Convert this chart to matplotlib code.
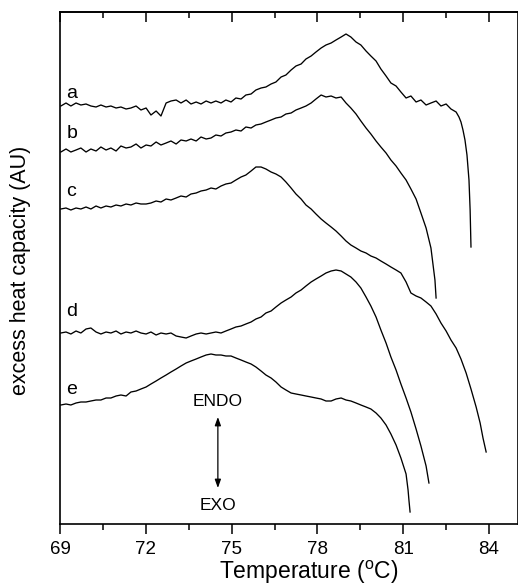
import matplotlib
matplotlib.use('Agg')
import matplotlib.pyplot as plt

plt.rcParams['font.family'] = ['Liberation Sans', 'DejaVu Sans']
plt.rcParams['mathtext.fontset'] = 'custom'
plt.rcParams['mathtext.rm'] = 'Liberation Sans'

# ── data: temperature (°C) and excess heat capacity (AU, stacked) ──

temp_grid = [69.03, 69.21, 69.38, 69.56, 69.73, 69.91, 70.08, 70.26, 70.43, 70.61,
             70.78, 70.96, 71.13, 71.31, 71.48, 71.66, 71.83, 72.01, 72.18, 72.36,
             72.53, 72.71, 72.88, 73.06, 73.23, 73.41, 73.58, 73.76, 73.93, 74.11,
             74.28, 74.45, 74.63, 74.80, 74.98, 75.15, 75.33, 75.50, 75.68, 75.85,
             76.03, 76.20, 76.38, 76.55, 76.73, 76.90, 77.08, 77.25, 77.43, 77.60,
             77.78, 77.95, 78.13, 78.30, 78.48, 78.65, 78.83, 79.00, 79.17, 79.35,
             79.52, 79.70, 79.87, 80.05, 80.22, 80.40, 80.57, 80.75, 80.92, 81.10,
             81.27, 81.45, 81.62, 81.80, 81.97, 82.15, 82.32, 82.50, 82.67, 82.85]

cp_a = [418, 421, 418, 421, 419, 420, 418, 417, 419, 417,
        418, 416, 417, 415, 416, 418, 414, 416, 409, 413,
        408, 421, 423, 424, 421, 424, 420, 422, 420, 423,
        421, 423, 421, 424, 422, 426, 425, 429, 430, 434,
        436, 437, 440, 442, 447, 449, 454, 458, 460, 465,
        468, 472, 476, 479, 481, 484, 487, 490, 487, 482,
        479, 473, 468, 463, 455, 448, 441, 438, 432, 426,
        428, 422, 424, 419, 421, 423, 418, 420, 415, 412]
tail_a_T = [82.95, 83.02, 83.09, 83.16, 83.23, 83.30, 83.34, 83.37]
tail_a = [407, 402, 394, 384, 369, 344, 314, 277]

cp_b = [372, 375, 372, 374, 376, 372, 375, 373, 377, 374,
        376, 373, 378, 376, 377, 380, 376, 379, 378, 382,
        379, 381, 383, 380, 384, 383, 385, 383, 387, 385,
        386, 389, 388, 391, 392, 394, 393, 397, 396, 399,
        400, 402, 404, 406, 407, 410, 411, 414, 416, 418,
        421, 425, 429, 427, 428, 426, 427, 421, 416, 410,
        403, 396, 390, 383, 377, 371, 364, 358, 351, 344,
        335, 325, 311, 296, 276]
tail_b_T = [82.04, 82.11, 82.15]
tail_b = [260, 244, 226]

cp_c = [315, 316, 314, 316, 315, 317, 315, 318, 316, 318,
        317, 319, 318, 320, 319, 321, 320, 320, 321, 323,
        322, 325, 324, 326, 328, 327, 330, 331, 333, 334,
        336, 335, 338, 340, 341, 344, 347, 349, 353, 357,
        357, 355, 352, 350, 347, 342, 336, 330, 325, 319,
        315, 310, 305, 301, 297, 293, 288, 283, 279, 276,
        273, 271, 268, 266, 263, 260, 257, 254, 251, 242,
        231, 228, 226, 222, 218, 210, 201, 193, 184, 176]
tail_c_T = [83.02, 83.20, 83.37, 83.55, 83.69, 83.79, 83.90]
tail_c = [165, 151, 135, 117, 101, 86, 72]

cp_d = [191, 192, 190, 193, 191, 195, 196, 192, 190, 192,
        191, 193, 190, 192, 191, 193, 191, 190, 192, 189,
        191, 190, 191, 188, 187, 186, 188, 190, 191, 190,
        191, 192, 191, 193, 195, 197, 198, 200, 202, 205,
        207, 211, 213, 217, 221, 224, 227, 231, 234, 238,
        242, 245, 248, 251, 253, 254, 253, 250, 247, 242,
        236, 227, 218, 207, 194, 181, 167, 154, 140, 126,
        112, 95, 78, 58]
tail_d_T = [81.90]
tail_d = [41]

cp_e = [119, 120, 119, 121, 122, 122, 123, 124, 124, 126,
        126, 128, 129, 128, 132, 133, 135, 137, 140, 143,
        146, 149, 152, 155, 158, 161, 163, 165, 167, 169,
        170, 169, 169, 168, 168, 166, 164, 162, 160, 157,
        153, 149, 146, 142, 137, 134, 131, 130, 129, 128,
        127, 126, 125, 123, 123, 125, 126, 124, 123, 121,
        119, 117, 115, 111, 106, 99, 90, 79, 66, 50]
tail_e_T = [81.17, 81.20, 81.24]
tail_e = [34, 24, 12]

curves = [
    ('a', cp_a, tail_a_T, tail_a, 431),
    ('b', cp_b, tail_b_T, tail_b, 391),
    ('c', cp_c, tail_c_T, tail_c, 332),
    ('d', cp_d, tail_d_T, tail_d, 212),
    ('e', cp_e, tail_e_T, tail_e, 134),
]

# ── figure ───────────────────────────────────────────────────────

fig = plt.figure(figsize=(5.18, 5.85), dpi=100)
ax = fig.add_axes([60/518, 1-524/585, 457.6/518, 512/585])

for name, cp, tT, tcp, label_y in curves:
    T = temp_grid[:len(cp)] + tT
    ax.plot(T, cp + tcp, color='black', lw=0.95)
    ax.text(69.22, label_y, name, fontsize=14, ha='left', va='center')

# ENDO / EXO marker
ax.text(74.52, 122, 'ENDO', fontsize=12.5, ha='center', va='center')
ax.text(74.52, 19, 'EXO', fontsize=12.5, ha='center', va='center')
ax.annotate('', xy=(74.52, 107), xytext=(74.52, 36),
            arrowprops=dict(arrowstyle='<|-|>,head_width=0.18,head_length=0.5',
                            color='black', lw=0.9, shrinkA=0, shrinkB=0))

ax.set_xlim(69, 85)
ax.set_ylim(0, 512)
ax.set_yticks([])
ax.set_xticks([69, 72, 75, 78, 81, 84])
ax.set_xticks([70.5, 73.5, 76.5, 79.5, 82.5], minor=True)
ax.tick_params(axis='x', which='major', direction='out', length=7, width=1.1,
               labelsize=13.5, pad=5)
ax.tick_params(axis='x', which='minor', direction='out', length=4.5, width=1.1)
for s in ax.spines.values():
    s.set_linewidth(1.2)

top = ax.secondary_xaxis('top')
top.set_xticks([69, 72, 75, 78, 81, 84])
top.set_xticks([70.5, 73.5, 76.5, 79.5, 82.5], minor=True)
top.tick_params(axis='x', which='major', direction='in', length=7, width=1.1,
                labeltop=False)
top.tick_params(axis='x', which='minor', direction='in', length=4.5, width=1.1)
top.spines['top'].set_linewidth(1.2)

ax.set_xlabel(r'Temperature ($^{\mathrm{o}}$C)', fontsize=16.5)
ax.xaxis.label.set_va('center')
ax.xaxis.set_label_coords(0.544, -0.094)
ax.set_ylabel('excess heat capacity (AU)', fontsize=15.5)
ax.yaxis.label.set_va('center')
ax.yaxis.set_label_coords(-0.087, 0.496)

fig.savefig('out.png', dpi=100, facecolor='white')
